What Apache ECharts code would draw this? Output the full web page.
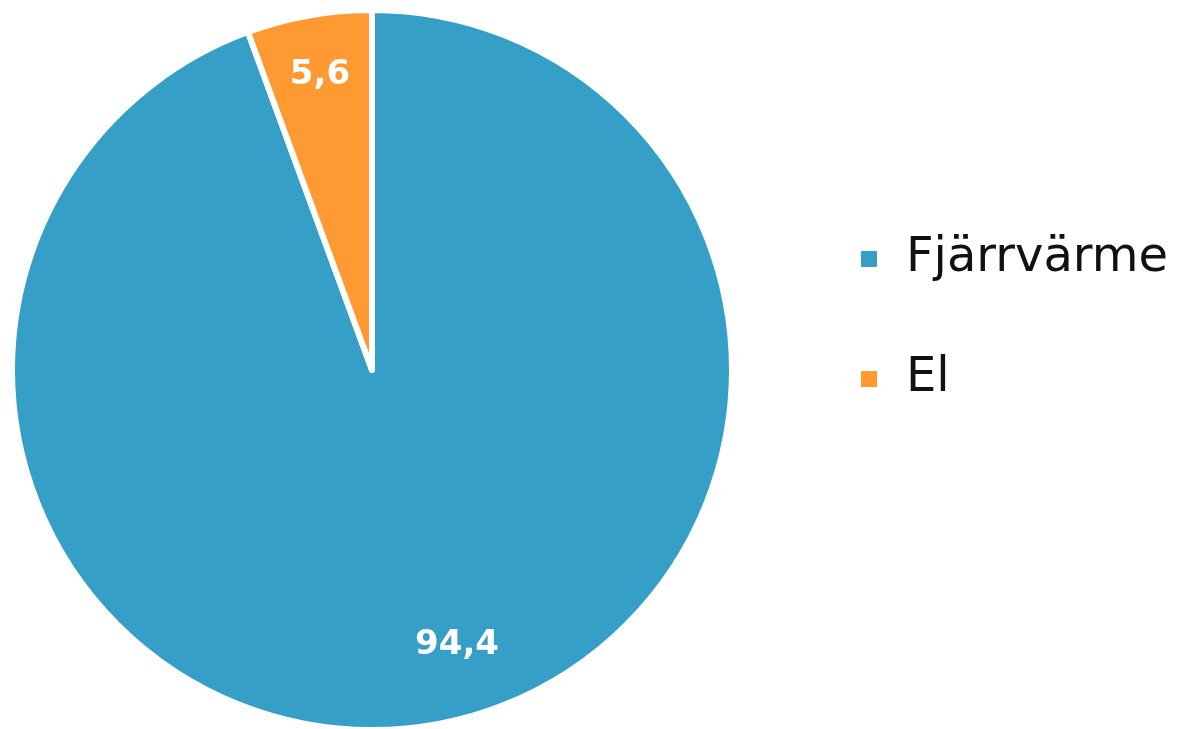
<!DOCTYPE html>
<html>
<head>
<meta charset="utf-8">
<script src="https://cdn.jsdelivr.net/npm/echarts@6/dist/echarts.min.js"></script>
<style>
  html, body { margin: 0; padding: 0; background: #ffffff; }
  #chart { width: 1180px; height: 729px; }
</style>
</head>
<body>
<div id="chart"></div>
<script>
const categories = ['Fjärrvärme', 'El'];
const values = [94.4, 5.6];
const colors = ['#369fc7', '#ff9a33'];
const labelOffsets = [[53, 95], [-20, -115]];

const chart = echarts.init(document.getElementById('chart'), null, { renderer: 'canvas' });

const data = categories.map((name, i) => ({
  name: name,
  value: values[i],
  itemStyle: { color: colors[i] },
  label: { offset: labelOffsets[i] }
}));

chart.setOption({
  animation: false,
  backgroundColor: '#ffffff',
  legend: {
    orient: 'vertical',
    left: 854,
    top: 227,
    itemWidth: 18,
    itemHeight: 18,
    itemGap: 66,
    icon: 'rect',
    data: categories,
    textStyle: {
      fontFamily: 'DejaVu Sans',
      fontSize: 48,
      color: '#111111',
      padding: [0, 0, 0, 23],
      lineHeight: 54
    }
  },
  series: [{
    type: 'pie',
    center: [372, 370],
    radius: [0, 360],
    startAngle: 90,
    clockwise: true,
    avoidLabelOverlap: false,
    itemStyle: { borderColor: '#ffffff', borderWidth: 6 },
    label: {
      show: true,
      position: 'inside',
      color: '#ffffff',
      fontFamily: 'DejaVu Sans',
      fontWeight: 'bold',
      fontSize: 34,
      formatter: p => String(p.value).replace('.', ',')
    },
    labelLine: { show: false },
    emphasis: { disabled: true },
    data: data
  }]
});
</script>
</body>
</html>
